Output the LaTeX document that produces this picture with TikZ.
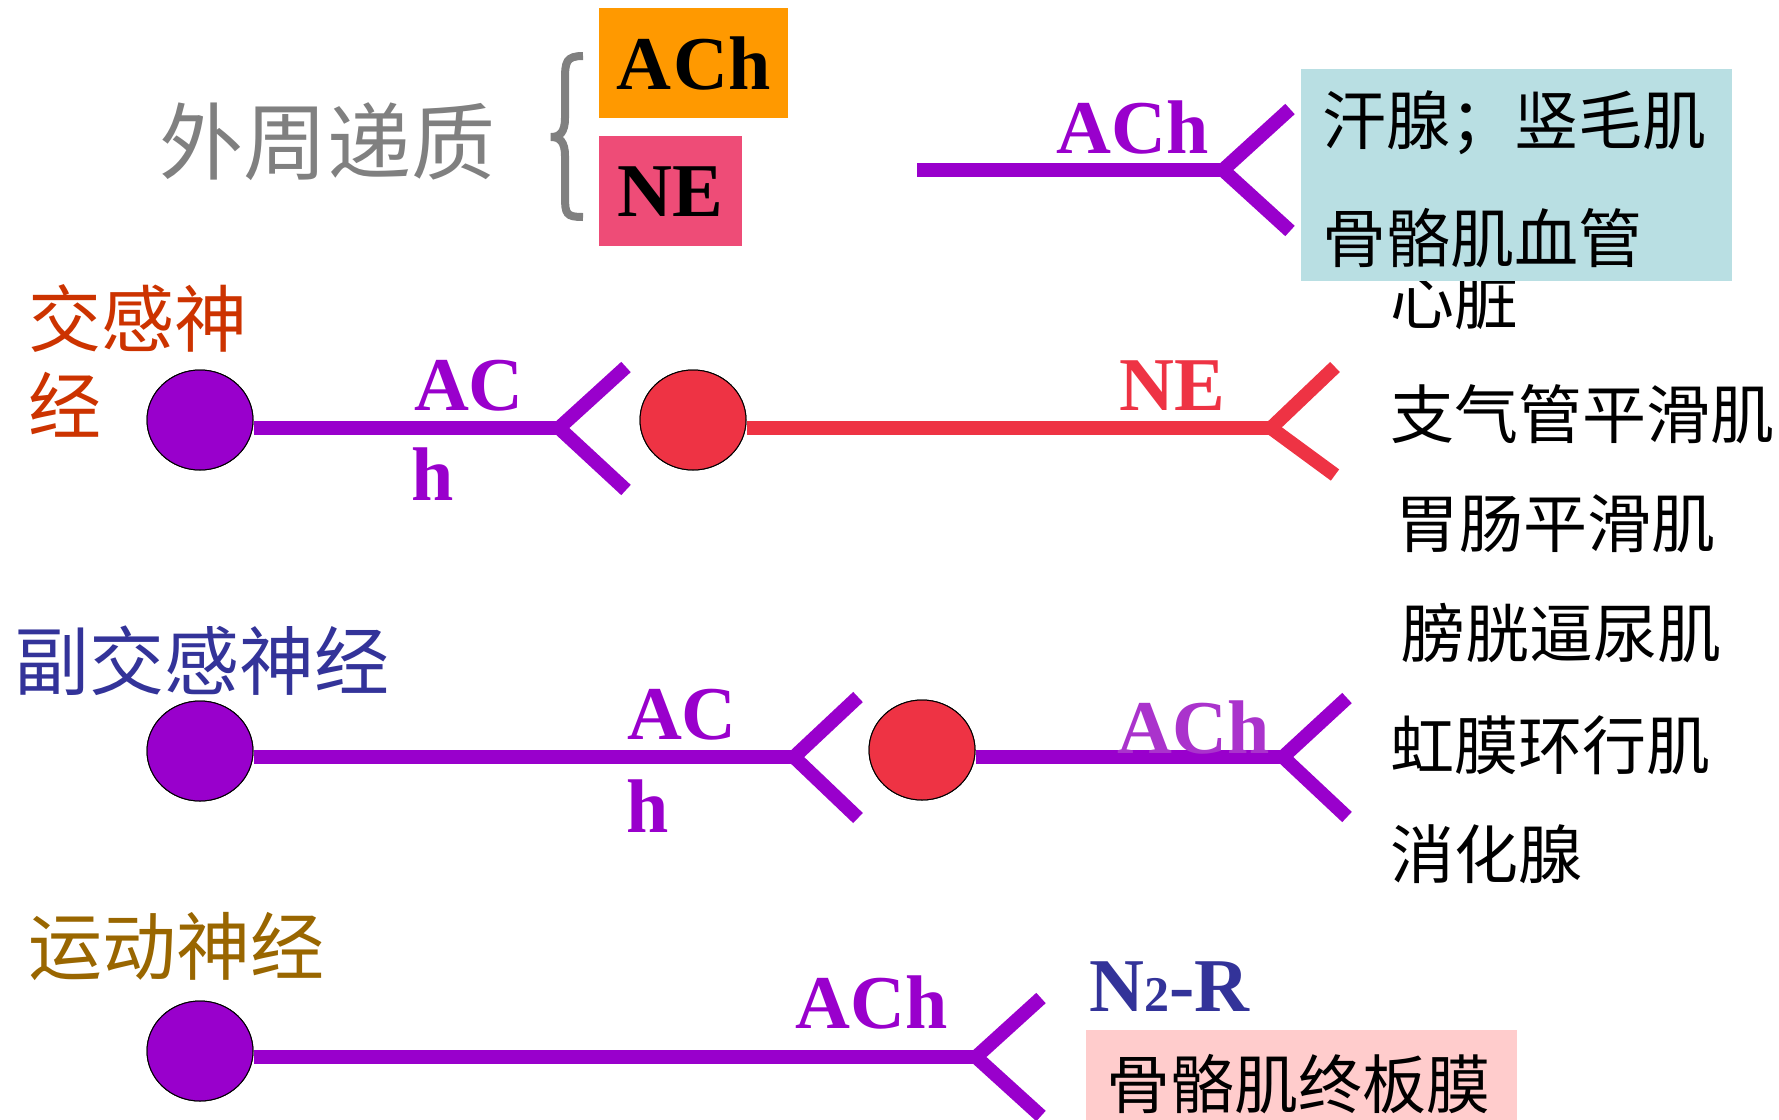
\documentclass[tikz,border=0pt]{standalone}
\usepackage{fontspec}
\usetikzlibrary{shapes.geometric}
\setmainfont{Liberation Serif}
\newfontfamily\cjk{Noto Sans CJK SC}
\definecolor{purp}{HTML}{9900CC}
\definecolor{lpurp}{HTML}{AA33CC}
\definecolor{redc}{HTML}{EE3344}
\definecolor{orangebox}{HTML}{FF9900}
\definecolor{pinkbox}{HTML}{EE4C77}
\definecolor{cyanbox}{HTML}{B9DFE3}
\definecolor{lpinkbox}{HTML}{FFCCCC}
\definecolor{navy}{HTML}{333399}
\definecolor{brickred}{HTML}{CC3300}
\definecolor{brownc}{HTML}{996600}
\definecolor{grayc}{HTML}{808080}
\begin{document}
\begin{tikzpicture}[x=1pt,y=-1pt,
  nerve/.style={line width=14pt},
  soma/.style={ellipse, draw=black, line width=1pt, minimum width=106pt, minimum height=100pt, inner sep=0pt},
  lab/.style={inner sep=0pt, font=\fontsize{76}{76}\selectfont\bfseries},
  cn/.style={inner sep=0pt, anchor=west, font=\fontsize{64}{64}\selectfont\cjk},
  box/.style={inner sep=0pt, anchor=north west}]
\useasboundingbox (0,0) rectangle (1779,1119);
\clip (0,0) rectangle (1779,1119);

% header
\node[inner sep=0pt, anchor=west, text=grayc, font=\fontsize{84}{84}\selectfont\cjk] (wz) at (159,142) {外周递质};
\draw[grayc, line width=8pt] (583,56) .. controls (566,56) and (565,62) .. (565,80) -- (565,118) .. controls (565,132) and (560,137) .. (551,137) .. controls (560,137) and (565,142) .. (565,156) -- (565,196) .. controls (565,214) and (566,217) .. (583,217);
\node[box, fill=orangebox, minimum width=189pt, minimum height=110pt] (achbox) at (599,8) {};
\node[lab] (achboxt) at (achbox.center) {A\kern2ptC\kern1pth};
\node[box, fill=pinkbox, minimum width=143pt, minimum height=110pt] (nebox) at (599,136) {};
\node[lab] (neboxt) at (nebox.center) {NE};

% top line (sweat glands)
\coordinate (t0) at (917,170);
\coordinate (tf) at (1223,170);
\coordinate (tu) at (1290,109);
\coordinate (td) at (1290,231);
\draw[nerve, purp] (t0) -- (tf);
\draw[nerve, purp] (tu) -- (tf) -- (td);
\node[lab, text=purp] (tach) at (1133,128) {ACh};

% right list
\node[cn] (xz) at (1390,300) {心脏};
\node[box, fill=cyanbox, minimum width=431pt, minimum height=212pt] (cyan) at (1301,69) {};
\node[cn] (hx) at (1322,123) {汗腺；竖毛肌};
\node[cn] (gg) at (1322,238) {骨骼肌血管};
\node[cn] (zq) at (1390,414) {支气管平滑肌};
\node[cn] (wc) at (1395,524) {胃肠平滑肌};
\node[cn] (pg) at (1401,633) {膀胱逼尿肌};
\node[cn] (hm) at (1390,745) {虹膜环行肌};
\node[cn] (xh) at (1390,854) {消化腺};

% sympathetic
\node[inner sep=0pt, anchor=west, text=brickred, font=\fontsize{73}{73}\selectfont\cjk] (jg1) at (28,318) {交感神};
\node[inner sep=0pt, anchor=west, text=brickred, font=\fontsize{73}{73}\selectfont\cjk] (jg2) at (28,405) {经};
\coordinate (sf) at (559,428);
\coordinate (su) at (626,367);
\coordinate (sd) at (626,490);
\coordinate (rf) at (1271,428);
\coordinate (ru) at (1335,367);
\coordinate (rd) at (1335,475);
\node[soma, fill=purp] (s1) at (200,420) {};
\node[soma, fill=redc] (s2) at (693,420) {};
\draw[nerve, purp] (s1.east |- sf) -- (sf);
\draw[nerve, purp] (su) -- (sf) -- (sd);
\draw[nerve, redc] (s2.east |- rf) -- (rf);
\draw[nerve, redc] (ru) -- (rf) -- (rd);
\node[soma, fill=purp] at (s1) {};
\node[soma, fill=redc] at (s2) {};
\node[lab, text=purp] (sac) at (469,386) {AC};
\node[lab, text=purp] (sh) at (433,474) {h};
\node[lab, text=redc] (sne) at (1172,386) {NE};

% parasympathetic
\node[inner sep=0pt, anchor=west, text=navy, font=\fontsize{75}{75}\selectfont\cjk] (fjg) at (14,661) {副交感神经};
\coordinate (pf) at (794,757);
\coordinate (pu) at (858,697);
\coordinate (pd) at (858,818);
\coordinate (qf) at (1283,757);
\coordinate (qu) at (1347,698);
\coordinate (qd) at (1347,817);
\node[soma, fill=purp] (p1) at (200,751) {};
\node[soma, fill=redc] (p2) at (922,750) {};
\draw[nerve, purp] (p1.east |- pf) -- (pf);
\draw[nerve, purp] (pu) -- (pf) -- (pd);
\draw[nerve, purp] (p2.east |- qf) -- (qf);
\draw[nerve, purp] (qu) -- (qf) -- (qd);
\node[soma, fill=purp] at (p1) {};
\node[soma, fill=redc] at (p2) {};
\node[lab, text=purp] (pac) at (682,715) {AC};
\node[lab, text=purp] (ph) at (648,806) {h};
\node[lab, text=lpurp] (pach) at (1194,727) {ACh};

% motor
\node[inner sep=0pt, anchor=west, text=brownc, font=\fontsize{74}{74}\selectfont\cjk] (ydsj) at (28,947) {运动神经};
\coordinate (mf) at (976,1057);
\coordinate (mu) at (1041,998);
\coordinate (md) at (1041,1116);
\node[soma, fill=purp] (m1) at (200,1051) {};
\draw[nerve, purp] (m1.east |- mf) -- (mf);
\draw[nerve, purp] (mu) -- (mf) -- (md);
\node[soma, fill=purp] at (m1) {};
\node[lab, text=purp] (mach) at (872,1002) {ACh};
\node[lab, text=navy, anchor=west] (n2r) at (1089,987) {N{\fontsize{50}{50}\selectfont 2}-R};
\node[box, fill=lpinkbox, minimum width=431pt, minimum height=100pt] (pkb) at (1086,1030) {};
\node[cn] (ggz) at (1106,1084) {骨骼肌终板膜};
\end{tikzpicture}
\end{document}
